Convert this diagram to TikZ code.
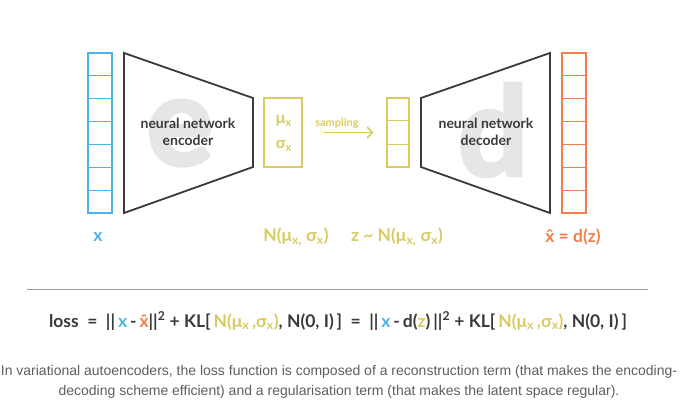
\documentclass[tikz,border=0pt]{standalone}
\usepackage{fontspec}
\setmainfont{Lato}
\newfontfamily\capfont{Liberation Sans}
\newfontfamily\ghostfont[FakeBold=3]{Lato}
\usetikzlibrary{arrows.meta,positioning,calc}
\definecolor{xblue}{HTML}{4DB3E6}
\definecolor{latent}{HTML}{D8CB62}
\definecolor{xorange}{HTML}{F07F4B}
\definecolor{ink}{HTML}{3A3A3A}
\definecolor{ghost}{HTML}{E6E6E6}
\definecolor{rulegray}{HTML}{9A9A9A}
\definecolor{capgray}{HTML}{5E5E5E}
\newcommand{\lo}[1]{\textsubscript{#1}}

\begin{document}
\begin{tikzpicture}[x=1pt,y=-1pt,
  column/.style={draw=#1,line width=1.5pt,minimum width=24pt,inner sep=0pt},
  net/.style={draw=ink,line width=1.8pt,line join=miter},
  ghostletter/.style={text=ghost,font=\ghostfont\fontsize{124}{124}\selectfont\bfseries,inner sep=0pt},
  nettext/.style={text=ink,font=\fontsize{14}{17}\bfseries,align=center},
  vartext/.style={font=\fontsize{17.5}{17.5}\bfseries,inner sep=0pt}]
  \useasboundingbox (0,0) rectangle (694,410);

  % input column
  \node[column=xblue,minimum height=160pt] (xcol) at (100,133) {};
  \foreach \i in {1,...,6}
    \draw[xblue,line width=1.4pt] ($(xcol.north west)!\i/7!(xcol.south west)$) -- ($(xcol.north east)!\i/7!(xcol.south east)$);

  % encoder
  \node[ghostletter] (eghost) at (180,133) {e};
  \draw[net] (124,53) -- (253,98) -- (253,167) -- (124,213) -- cycle;
  \node[nettext] (enctext) at (188,132) {neural network\\encoder};

  % mean and deviation
  \node[draw=latent,line width=1.5pt,minimum width=38pt,minimum height=69pt] (mubox) at (283,132.5) {};
  \node[vartext,text=latent,font=\fontsize{16}{16}\bfseries] (mu) at (284,121) {μ\lo{x}};
  \node[vartext,text=latent,font=\fontsize{16}{16}\bfseries] (sigma) at (284,146) {σ\lo{x}};

  % latent column
  \node[column=latent,minimum width=22pt,minimum height=69pt] (zcol) at (398,132.5) {};
  \foreach \i in {1,2}
    \draw[latent,line width=1.4pt] ($(zcol.north west)!\i/3!(zcol.south west)$) -- ($(zcol.north east)!\i/3!(zcol.south east)$);

  \draw[latent,line width=1.6pt,-{Straight Barb[length=5pt,width=11pt]},shorten <=21pt,shorten >=13pt] (mubox) -- (zcol);
  \node[text=latent,font=\fontsize{11}{11}\bfseries] (samp) at (337,123) {sampling};

  % decoder
  \node[ghostletter] (dghost) at (493,130) {d};
  \draw[net] (421,98) -- (550,53) -- (550,213) -- (421,167) -- cycle;
  \node[nettext] (dectext) at (486,132) {neural network\\decoder};

  % output column
  \node[column=xorange,minimum height=160pt] (xhatcol) at (574,133) {};
  \foreach \i in {1,...,6}
    \draw[xorange,line width=1.4pt] ($(xhatcol.north west)!\i/7!(xhatcol.south west)$) -- ($(xhatcol.north east)!\i/7!(xhatcol.south east)$);

  % labels
  \node[vartext,text=xblue] (xlab) at (98,237) {x};
  \node[vartext,text=latent] (nlab) at (296,237) {N(μ\lo{x,} σ\lo{x})};
  \node[vartext,text=latent] (zlab) at (397,237) {z \textasciitilde{} N(μ\lo{x,} σ\lo{x})};
  \node[vartext,text=xorange] (xhatlab) at (573,237) {\^{x} = d(z)};

  % loss
  \coordinate (ruleL) at (27,289);
  \coordinate (ruleR) at (648,289);
  \draw[rulegray,line width=1pt] (ruleL) -- (ruleR);
  \node[text=ink,font=\fontsize{17.5}{17.5}\bfseries] (loss) at (338,321)
    {loss\ \ =\ \ ||\,{\color{xblue}x}\,-\,{\color{xorange}\^{x}}||\textsuperscript{2}\ +\ KL[\,{\color{latent}N(μ\lo{x}\,,σ\lo{x})}, N(0, I)\,]\ \ =\ \ ||\,{\color{xblue}x}\,-\,d({\color{latent}z})\,||\textsuperscript{2}\ +\ KL[\,{\color{latent}N(μ\lo{x}\,,σ\lo{x})}, N(0, I)\,]};

  \node[text=capgray,font=\capfont\fontsize{14}{20}\selectfont,align=center] (cap) at (339,382)
    {In variational autoencoders, the loss function is composed of a reconstruction term (that makes the encoding-\\decoding scheme efficient) and a regularisation term (that makes the latent space regular).};
\end{tikzpicture}
\end{document}
